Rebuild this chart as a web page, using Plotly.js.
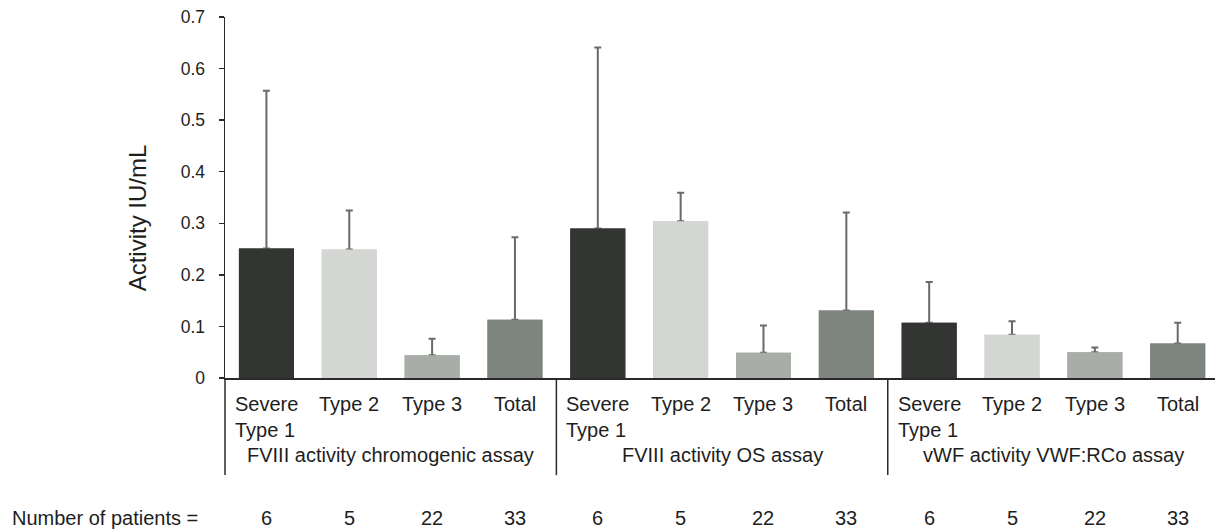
<!DOCTYPE html>
<html>
<head>
<meta charset="utf-8">
<script src="https://cdn.plot.ly/plotly-3.0.1.min.js"></script>
<style>html,body{margin:0;padding:0;background:#fff;}#chart{width:1216px;height:532px;}</style>
</head>
<body>
<div id="chart"></div>
<script>
// ---- data ----
var assays = ["FVIII activity chromogenic assay", "FVIII activity OS assay", "vWF activity VWF:RCo assay"];
var subtypes = ["Severe<br>Type 1", "Type 2", "Type 3", "Total"];
var subtypeNames = ["Severe Type 1", "Type 2", "Type 3", "Total"];
var chromogenicMean = [0.251, 0.249, 0.044, 0.113];
var chromogenicErr  = [0.306, 0.076, 0.032, 0.160];
var osMean          = [0.290, 0.304, 0.049, 0.131];
var osErr           = [0.351, 0.055, 0.053, 0.190];
var vwfMean         = [0.107, 0.084, 0.050, 0.067];
var vwfErr          = [0.079, 0.026, 0.009, 0.040];
var patientsChromogenic = [6, 5, 22, 33];
var patientsOS          = [6, 5, 22, 33];
var patientsVWF         = [6, 5, 22, 33];
var yTicks = [0, 0.1, 0.2, 0.3, 0.4, 0.5, 0.6, 0.7];
var yTickText = ["0", "0.1", "0.2", "0.3", "0.4", "0.5", "0.6", "0.7"];
var yTitle = "Activity IU/mL";
var rowTitle = "Number of patients =";

// ---- styles ----
var colors = ["#333533", "#d3d6d2", "#a9ada8", "#7e857e"];
var textColor = "#1e1e1e";
var fontFam = "Liberation Sans, Arial, sans-serif";

var means = [chromogenicMean, osMean, vwfMean];
var errs = [chromogenicErr, osErr, vwfErr];
var patients = [patientsChromogenic, patientsOS, patientsVWF];
var nSub = subtypes.length;

var traces = [];
var covers = [];
for (var k = 0; k < nSub; k++) {
  var xs = [], ys = [], es = [], em = [];
  for (var a = 0; a < assays.length; a++) {
    xs.push(a * nSub + k);
    ys.push(means[a][k]);
    es.push(errs[a][k]);
    em.push(0);
  }
  traces.push({
    type: "bar", name: subtypeNames[k], x: xs, y: ys, width: 0.664,
    marker: {color: colors[k], line: {width: 0}},
    error_y: {type: "data", symmetric: false, array: es, arrayminus: em,
              color: "#6a6a6a", thickness: 2, width: 3.5},
    showlegend: false, hoverinfo: "x+y"
  });
  // same bars again on top, so the lower error-bar cap is hidden under the bar
  covers.push({
    type: "bar", name: subtypeNames[k], x: xs, y: ys, width: 0.664,
    marker: {color: colors[k], line: {width: 0}},
    showlegend: false, hoverinfo: "skip"
  });
}
traces = traces.concat(covers);

var annotations = [];
var shapes = [];
var labelFont = {family: fontFam, size: 20, color: textColor};
for (var a = 0; a < assays.length; a++) {
  for (var k = 0; k < nSub; k++) {
    annotations.push({xref: "x", yref: "paper", x: a * nSub + k, y: -0.037,
      xanchor: "center", yanchor: "top", align: "left", showarrow: false,
      text: subtypes[k], font: labelFont});
    annotations.push({xref: "x", yref: "paper", x: a * nSub + k, y: -0.352,
      xanchor: "center", yanchor: "top", showarrow: false,
      text: String(patients[a][k]), font: labelFont});
  }
  annotations.push({xref: "x", yref: "paper", x: a * nSub + (nSub - 1) / 2, y: -0.178,
    xanchor: "center", yanchor: "top", showarrow: false,
    text: assays[a], font: labelFont});
  if (a === 0) {
    shapes.push({type: "line", xref: "paper", yref: "paper", x0: 0, x1: 0, y0: 0, y1: -0.269,
      line: {color: "#2a2a2a", width: 1.5}});
  } else {
    shapes.push({type: "line", xref: "x", yref: "paper", x0: a * nSub - 0.5, x1: a * nSub - 0.5,
      y0: 0, y1: -0.269, line: {color: "#2a2a2a", width: 1.5}});
  }
}
annotations.push({xref: "paper", yref: "paper", x: -0.2172, y: -0.352,
  xanchor: "left", yanchor: "top", showarrow: false,
  text: rowTitle, font: labelFont});
// y-axis title (placed as rotated text to match its lower position in the reference)
annotations.push({xref: "paper", yref: "paper", x: -0.0889, y: 0.445,
  xanchor: "center", yanchor: "middle", textangle: -90, showarrow: false,
  text: yTitle, font: {family: fontFam, size: 24, color: textColor}});

var layout = {
  width: 1216, height: 532,
  margin: {l: 225, r: 1, t: 17, b: 154, pad: 0},
  paper_bgcolor: "#ffffff", plot_bgcolor: "#ffffff",
  barmode: "overlay",
  font: {family: fontFam, color: textColor},
  xaxis: {range: [-0.5, 11.45], showticklabels: false, ticks: "", showgrid: false,
    zeroline: false, showline: true, linecolor: "#2a2a2a", linewidth: 1.5, fixedrange: true},
  yaxis: {range: [0, 0.7], tickvals: yTicks, ticktext: yTickText, ticks: "outside", ticklen: 5,
    tickwidth: 1.5, tickcolor: "#2a2a2a", showline: true, linecolor: "#2a2a2a", linewidth: 1.5,
    showgrid: false, zeroline: false, ticklabelstandoff: 10,
    tickfont: {family: fontFam, size: 17.5, color: textColor},
    fixedrange: true},
  annotations: annotations,
  shapes: shapes
};

Plotly.newPlot("chart", traces, layout, {displayModeBar: false, staticPlot: true});
</script>
</body>
</html>
